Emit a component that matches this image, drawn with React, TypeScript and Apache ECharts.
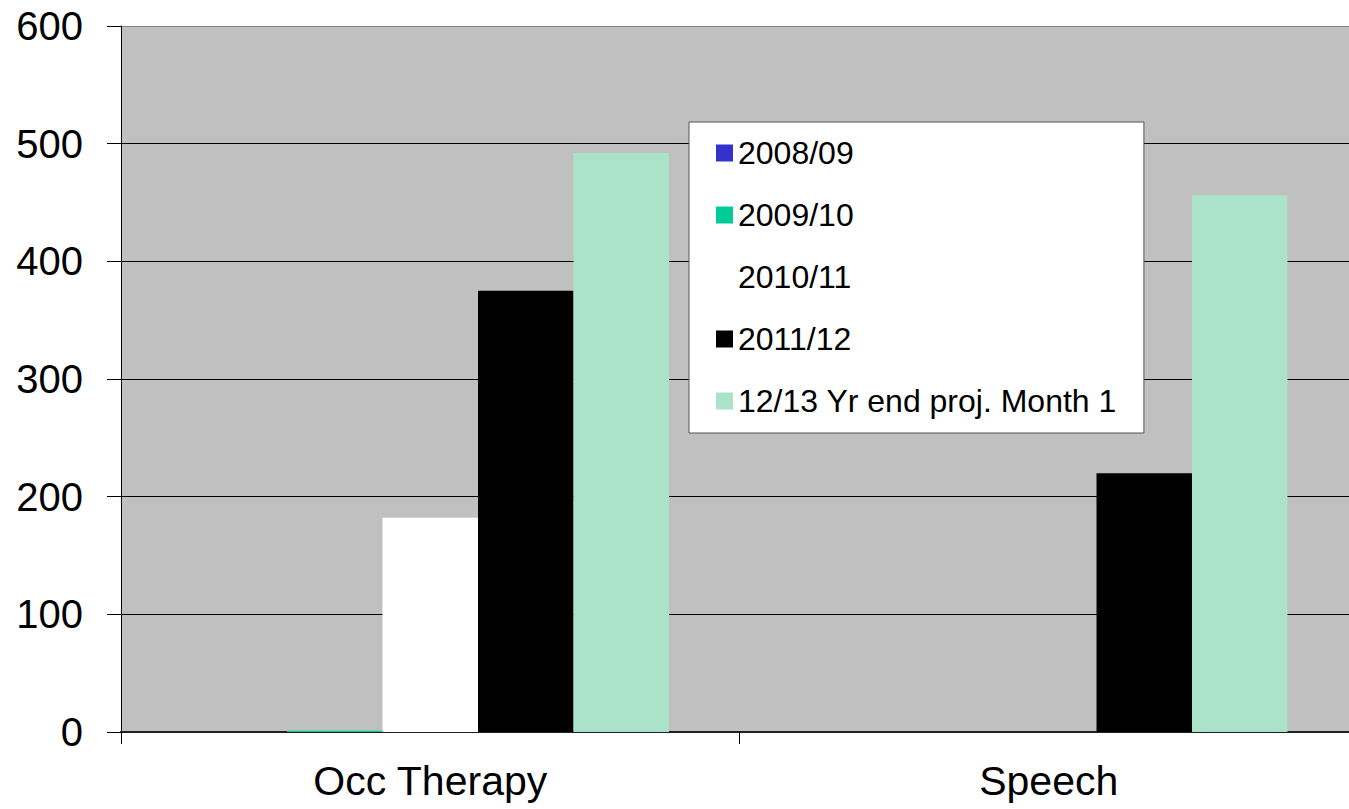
import React, { useEffect, useRef } from "react";
import * as echarts from "echarts";

const categories = ["Occ Therapy", "Speech"];
const seriesNames = ["2008/09", "2009/10", "2010/11", "2011/12", "12/13 Yr end proj. Month 1"];
const values2008 = [0, 0];
const values2009 = [1, 0];
const values2010 = [182, 0];
const values2011 = [375, 220];
const values1213 = [492, 456];
const seriesColors = ["#3333cc", "#00cc99", "#ffffff", "#000000", "#aae3ca"];
const yTicks = { min: 0, max: 600, interval: 100 };

export default function App() {
  const ref = useRef<HTMLDivElement>(null);
  useEffect(() => {
    if (!ref.current) return;
    const chart = echarts.init(ref.current, null, { renderer: "svg" });
    const data = [values2008, values2009, values2010, values2011, values1213];
    const font = "'Liberation Sans', Arial, sans-serif";
    chart.setOption({
      animation: false,
      backgroundColor: "#ffffff",
      grid: {
        left: 121,
        top: 26,
        right: -9,
        bottom: 77,
        show: true,
        backgroundColor: "#c0c0c0",
        borderWidth: 0,
        containLabel: false,
        outerBoundsMode: "none",
      },
      legend: {
        orient: "vertical",
        left: 689,
        top: 122,
        padding: [15, 27, 16, 27],
        itemGap: 30,
        itemWidth: 17,
        itemHeight: 17,
        icon: "rect",
        backgroundColor: "#ffffff",
        borderColor: "#555555",
        borderWidth: 1,
        textStyle: { fontFamily: font, fontSize: 32, color: "#000", lineHeight: 30 },
        data: seriesNames,
      },
      xAxis: {
        type: "category",
        data: categories,
        axisLine: { show: true, lineStyle: { color: "#202020", width: 2 } },
        axisTick: { show: true, length: 12, lineStyle: { color: "#000" }, alignWithLabel: false },
        axisLabel: { fontFamily: font, fontSize: 41, color: "#000", margin: 28 },
        splitLine: { show: false },
      },
      yAxis: {
        type: "value",
        min: yTicks.min,
        max: yTicks.max,
        interval: yTicks.interval,
        axisLine: { show: true, lineStyle: { color: "#000", width: 1 } },
        axisTick: { show: true, length: 14, lineStyle: { color: "#000" } },
        axisLabel: { fontFamily: font, fontSize: 40, color: "#000", margin: 38 },
        splitLine: {
          show: true,
          lineStyle: { color: ["#000", "#000", "#000", "#000", "#000", "#000", "#808080"], width: 1 },
        },
      },
      series: seriesNames.map((name, i) => ({
        name,
        type: "bar",
        data: data[i],
        barGap: "0%",
        barCategoryGap: "22.8%",
        itemStyle: { color: seriesColors[i] },
      })),
    });
    return () => chart.dispose();
  }, []);
  return (
    <div
      ref={ref}
      style={{ position: "fixed", left: 0, top: 0, width: 1349, height: 809 }}
    />
  );
}
